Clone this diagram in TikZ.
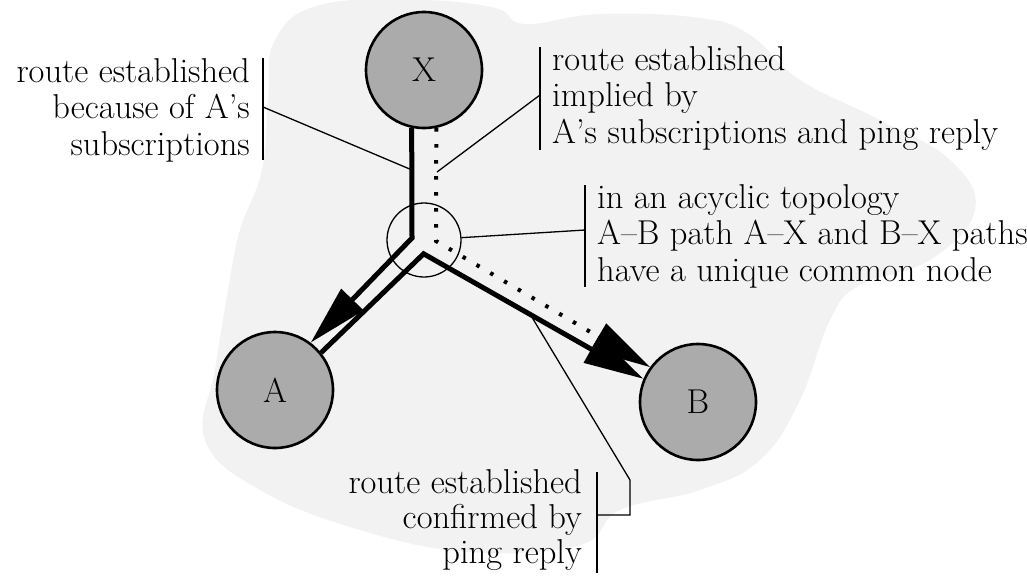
\documentclass[tikz,border=0pt]{standalone}
\usetikzlibrary{arrows.meta}
\begin{document}
\begin{tikzpicture}[x=1pt,y=-1pt,
  every node/.style={font=\fontsize{34.5}{36.5}\selectfont},
  station/.style={circle,draw,line width=2.6pt,fill=black!33,minimum size=116pt,inner sep=0pt},
  junction/.style={circle,draw,line width=1.3pt,minimum size=74pt,inner sep=0pt},
  route/.style={line width=5pt,line join=miter},
  implied/.style={line width=4pt,dash pattern=on 3.5pt off 12.5pt},
  head/.style={-{Triangle[length=60pt,width=30pt]}},
  leader/.style={line width=1.3pt},
  note/.style={inner sep=0pt}
]
\useasboundingbox (0,0) rectangle (1027,576);

% light shaded region behind the network
\fill[black!5] plot[smooth cycle,tension=0.7] coordinates {
  (275,40) (320,5) (420,0) (495,8) (525,24) (600,14) (700,18) (750,35)
  (800,80) (880,120) (950,160) (975,210) (930,260) (860,285) (830,320)
  (800,400) (760,460) (700,490) (620,510) (580,545) (470,552) (360,530)
  (260,490) (205,440) (215,370) (228,290) (240,230) (262,170) (268,100)};

% stations
\node[station] (X) at (424,70) {X};
\node[station] (A) at (275,390) {A};
\node[station] (B) at (698,402) {B};
\node[junction] (hub) at (424,240) {};

% bends of the three routes
\coordinate (jXA) at (412,238);
\coordinate (jAB) at (423.6,253.8);
\coordinate (jXB) at (436,241);

% routes
\draw[route,head] (X.258) -- (jXA) -- (A.53);
\draw[route,head] (A.39) -- (jAB) -- (B.157);
\draw[implied,head] (X.282) -- (jXB) -- (B.144);

% annotations
\node[note,anchor=north east,align=right] (t1) at (250,58.1)
  {route established\\because of A’s\\subscriptions};
\node[note,anchor=north west,align=left] (t2) at (552,46.1)
  {route established\\implied by\\A’s subscriptions and ping reply};
\node[note,anchor=north west,align=left] (t3) at (597,184.1)
  {in an acyclic topology\\A--B path A--X and B--X paths\\have a unique common node};
\node[note,anchor=north east,align=right,font=\fontsize{34.5}{35}\selectfont] (t4) at (582,469.1)
  {route established\\confirmed by\\ping reply};

% brackets beside the annotations
\draw[leader] (263,58) -- (263,160);
\draw[leader] (540,47) -- (540,150);
\draw[leader] (585,185) -- (585,287);
\draw[leader] (597,472) -- (597,573);

% leader lines
\coordinate (c1) at (263,107);
\coordinate (e1) at (412,170);
\coordinate (c2) at (540,95);
\coordinate (e2) at (437,172);
\coordinate (c3) at (585,230);
\coordinate (c4) at (597,515);
\coordinate (k4) at (630,515);
\coordinate (m4) at (630,480);
\coordinate (e4) at (530,314);
\draw[leader] (c1) -- (e1);
\draw[leader] (c2) -- (e2);
\draw[leader] (c3) -- (hub);
\draw[leader] (c4) -- (k4) -- (m4) -- (e4);
\end{tikzpicture}
\end{document}
